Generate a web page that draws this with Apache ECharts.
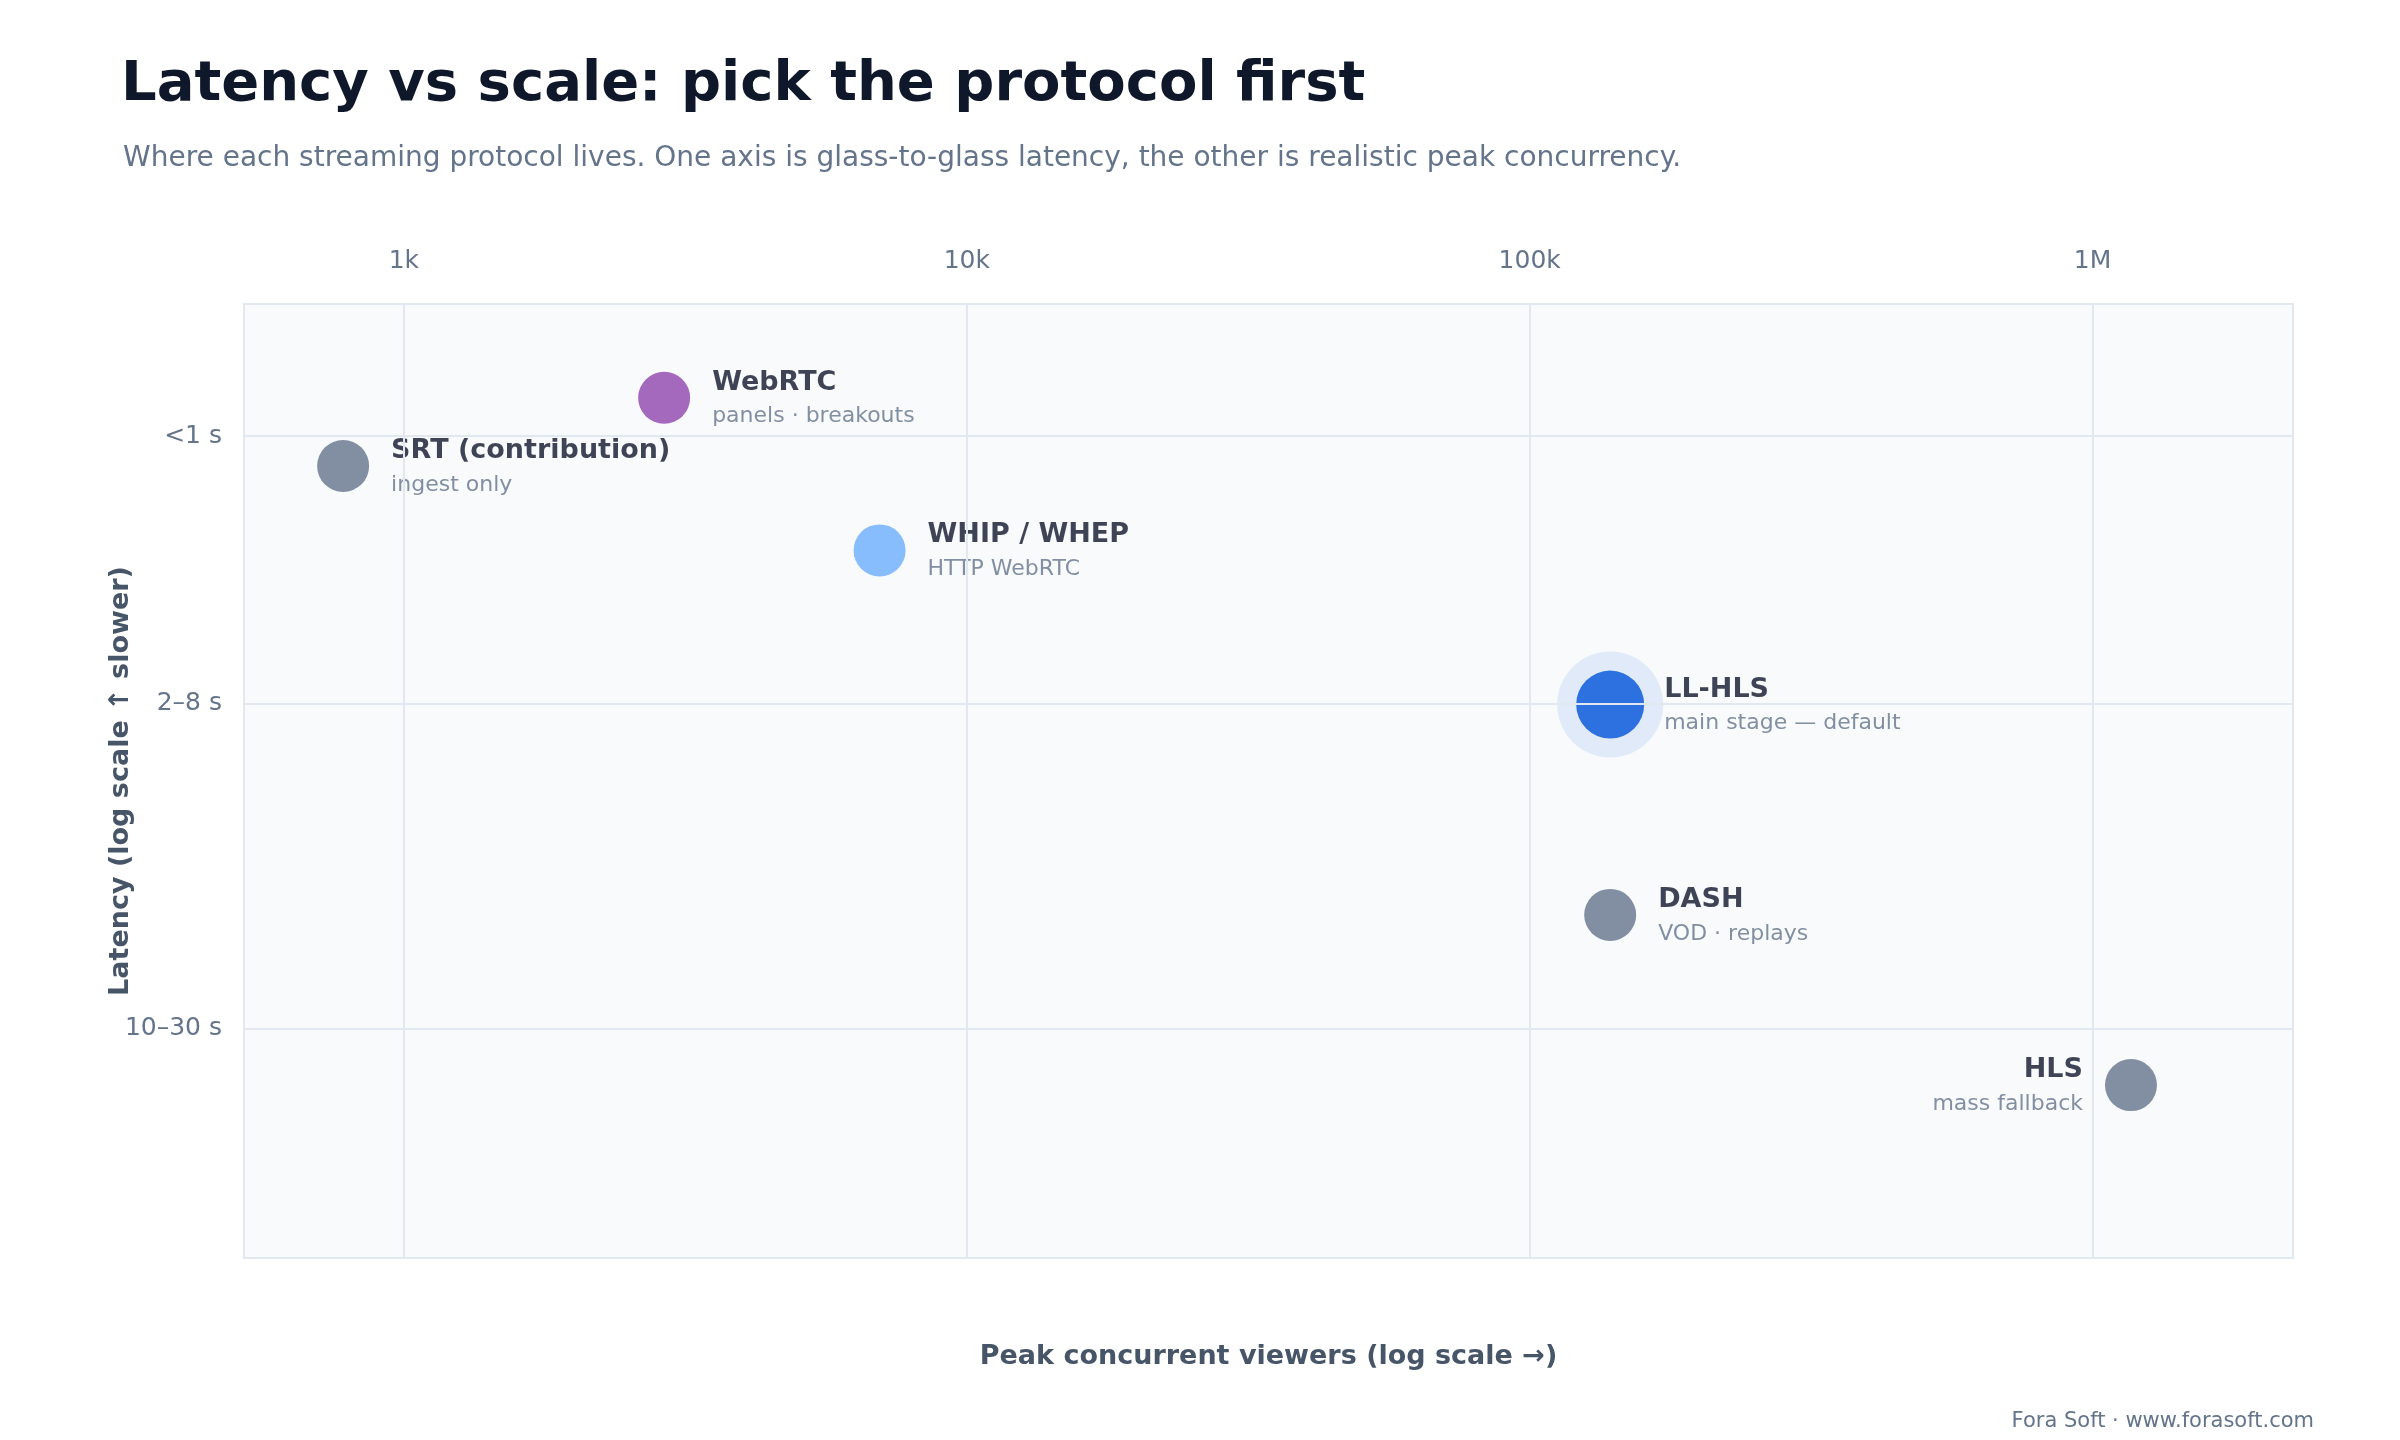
<!DOCTYPE html>
<html><head><meta charset="utf-8">
<script src="https://cdn.jsdelivr.net/npm/echarts@6/dist/echarts.min.js"></script>
<style>html,body{margin:0;background:#fff}#c{width:2400px;height:1440px}</style>
</head><body><div id="c"></div>
<script>
const names = ['SRT (contribution)','WebRTC','WHIP / WHEP','LL-HLS','DASH','HLS'];
const subs = ['ingest only','panels · breakouts','HTTP WebRTC','main stage — default','VOD · replays','mass fallback'];
const viewers = [780, 2900, 7000, 139000, 139000, 1170000];
const latency = [0.95, 0.63, 1.58, 4, 14.2, 39.6];
const colors = ['#64748b','#8e44ad','#6aaefc','#0052d9','#64748b','#64748b'];
const xTickVals = [1000, 10000, 100000, 1000000];
const xTickLabels = ['1k','10k','100k','1M'];
const yTickVals = [0.8, 4, 28.1];
const yTickLabels = ['<1 s','2–8 s','10–30 s'];
const L = Math.log10;
const chart = echarts.init(document.getElementById('c'));
const font = 'DejaVu Sans';
const pts = names.map((n,i)=>({
  value:[L(viewers[i]), L(latency[i])],
  symbolSize: i===3?68:52,
  itemStyle:{color:colors[i]},
  label:{show:true, position: i===5?'left':'right', distance: i===3?20:22, align: i===5?'right':'left',
    formatter:'{a|'+n+'}\n{b|'+subs[i]+'}',
    rich:{a:{fontSize:27,fontWeight:'bold',color:'#0f172a',fontFamily:font,lineHeight:38},
          b:{fontSize:22,color:'#64748b',fontFamily:font,lineHeight:30}}}
}));
chart.setOption({
  textStyle:{fontFamily:font},
  title:[{text:'Latency vs scale: pick the protocol first',left:116,top:52,textStyle:{fontSize:56,fontWeight:'bold',color:'#0f172a',fontFamily:font}},
    {text:'Where each streaming protocol lives. One axis is glass-to-glass latency, the other is realistic peak concurrency.',left:118,top:140,textStyle:{fontSize:28,fontWeight:'normal',color:'#64748b',fontFamily:font}},
    {text:'Fora Soft · www.forasoft.com',right:81,top:1406,textStyle:{fontSize:21,fontWeight:'normal',color:'#64748b',fontFamily:font}}],
  grid:{left:244,right:107,top:304,bottom:182,show:true,backgroundColor:'#f8fafc',borderColor:'#e2e8f0',borderWidth:2},
  xAxis:{type:'value',min:L(520),max:L(2270000),axisLabel:{show:false},axisTick:{show:false},axisLine:{show:false},splitLine:{show:false},
    name:'Peak concurrent viewers (log scale →)',nameLocation:'middle',nameGap:85,nameTextStyle:{fontSize:27,fontWeight:'bold',color:'#475569'}},
  yAxis:{type:'value',inverse:true,min:-0.446,max:2.05,axisLabel:{show:false},axisTick:{show:false},axisLine:{show:false},splitLine:{show:false},
    name:'Latency (log scale ↑ slower)',nameLocation:'middle',nameGap:110,nameTextStyle:{fontSize:27,fontWeight:'bold',color:'#475569'}},
  series:[
    {type:'scatter',silent:true,symbolSize:106,itemStyle:{color:'#dbe6f7'},data:[[L(viewers[3]),L(latency[3])]],z:1,
     markLine:{silent:true,symbol:'none',lineStyle:{color:'#e2e8f0',width:2,type:'solid'},
       data:[...xTickVals.map((v,i)=>({xAxis:L(v),label:{show:true,position:'start',formatter:xTickLabels[i],fontSize:25,color:'#64748b',distance:30}})),
             ...yTickVals.map((v,i)=>({yAxis:L(v),label:{show:true,position:'start',formatter:yTickLabels[i],fontSize:25,color:'#64748b',distance:22}}))]}},
    {type:'scatter',data:pts,z:3}
  ]
});
</script></body></html>
